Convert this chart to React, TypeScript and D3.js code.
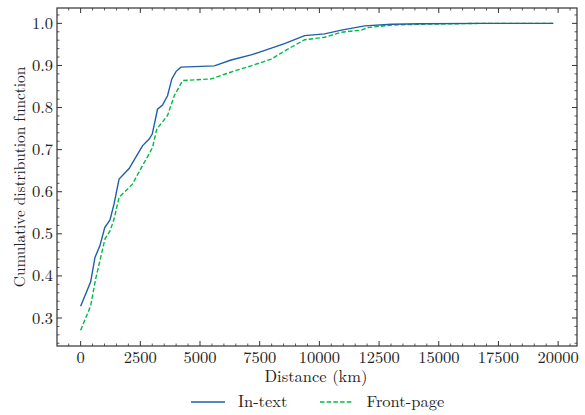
import React from "react";
import * as d3 from "d3";

const inTextX = [0, 420, 600, 810, 1010, 1230, 1400, 1610, 2030, 2590, 2870, 3000, 3220, 3430, 3640, 3820, 4000, 4200, 5600, 6300, 7140, 7560, 8540, 9380, 10220, 10920, 11900, 13020, 14280, 16800, 19800];
const inTextY = [0.328, 0.386, 0.444, 0.472, 0.515, 0.533, 0.571, 0.630, 0.655, 0.709, 0.725, 0.737, 0.796, 0.806, 0.828, 0.868, 0.886, 0.896, 0.899, 0.913, 0.925, 0.933, 0.952, 0.971, 0.975, 0.984, 0.994, 0.998, 0.999, 1.0, 1.0];

const frontX = [0, 420, 630, 840, 1020, 1230, 1400, 1610, 1960, 2170, 2590, 2870, 3010, 3190, 3640, 3920, 4270, 5460, 6440, 7140, 7980, 8680, 9380, 10220, 10920, 11760, 12040, 13020, 14280, 16800, 19800];
const frontY = [0.271, 0.329, 0.393, 0.444, 0.488, 0.507, 0.535, 0.587, 0.606, 0.618, 0.662, 0.690, 0.705, 0.749, 0.781, 0.828, 0.864, 0.868, 0.887, 0.899, 0.915, 0.939, 0.961, 0.967, 0.979, 0.984, 0.990, 0.996, 0.998, 1.0, 1.0];

const xTicks = [0, 2500, 5000, 7500, 10000, 12500, 15000, 17500, 20000];
const yTicks = [0.3, 0.4, 0.5, 0.6, 0.7, 0.8, 0.9, 1.0];
const seriesNames = ["In-text", "Front-page"];
const colors = ["#1f5fa8", "#00B945"];

const W = 585, H = 415;
const L = 57, R = 577, T = 8, B = 346;
const txt: React.CSSProperties = { fontFamily: '"Latin Modern Roman"', fontSize: 16.5, fill: "#222" };
const ytxt: React.CSSProperties = { ...txt, fontSize: 15.3 };

export default function App() {
  const x = d3.scaleLinear().domain([-990, 20790]).range([L, R]);
  const y = d3.scaleLinear().domain([0.2335, 1.0365]).range([B, T]);
  const line = d3.line<[number, number]>().x(d => x(d[0])).y(d => y(d[1]));
  const s1: [number, number][] = inTextX.map((v, i) => [v, inTextY[i]]);
  const s2: [number, number][] = frontX.map((v, i) => [v, frontY[i]]);

  const xMinor = d3.range(-500, 20800, 500).filter(v => v >= -990 && v <= 20790 && v % 2500 !== 0);
  const yMinor = d3.range(24, 104, 2).map(v => v / 100).filter(v => v >= 0.2335 && v <= 1.0365 && Math.round(v * 100) % 10 !== 0);

  const tickColor = "#333";
  return (
    <svg width={W} height={H} style={{ position: "absolute", left: 0, top: 0, background: "#fff" }}>
      <rect x={0} y={0} width={W} height={H} fill="#fff" />
      <path d={line(s2) || ""} fill="none" stroke={colors[1]} strokeWidth={1.4} strokeDasharray="4.5,2.2" />
      <path d={line(s1) || ""} fill="none" stroke={colors[0]} strokeWidth={1.4} />
      <rect x={L} y={T} width={R - L} height={B - T} fill="none" stroke={tickColor} strokeWidth={1.2} />
      {xTicks.map(t => (
        <g key={"xt" + t}>
          <line x1={x(t)} x2={x(t)} y1={B} y2={B - 5} stroke={tickColor} strokeWidth={1} />
          <line x1={x(t)} x2={x(t)} y1={T} y2={T + 5} stroke={tickColor} strokeWidth={1} />
          <text x={x(t)} y={363} textAnchor="middle" style={txt}>{t}</text>
        </g>
      ))}
      {xMinor.map(t => (
        <g key={"xm" + t}>
          <line x1={x(t)} x2={x(t)} y1={B} y2={B - 2.5} stroke={tickColor} strokeWidth={0.8} />
          <line x1={x(t)} x2={x(t)} y1={T} y2={T + 2.5} stroke={tickColor} strokeWidth={0.8} />
        </g>
      ))}
      {yTicks.map(t => (
        <g key={"yt" + t}>
          <line x1={L} x2={L + 5} y1={y(t)} y2={y(t)} stroke={tickColor} strokeWidth={1} />
          <line x1={R} x2={R - 5} y1={y(t)} y2={y(t)} stroke={tickColor} strokeWidth={1} />
          <text x={53} y={y(t) + 5.5} textAnchor="end" style={txt}>{t.toFixed(1)}</text>
        </g>
      ))}
      {yMinor.map(t => (
        <g key={"ym" + t}>
          <line x1={L} x2={L + 2.5} y1={y(t)} y2={y(t)} stroke={tickColor} strokeWidth={0.8} />
          <line x1={R} x2={R - 2.5} y1={y(t)} y2={y(t)} stroke={tickColor} strokeWidth={0.8} />
        </g>
      ))}
      <text x={316} y={382} textAnchor="middle" style={txt}>Distance (km)</text>
      <text transform={`translate(25, ${(T + B) / 2}) rotate(-90)`} textAnchor="middle" style={ytxt}>Cumulative distribution function</text>
      <line x1={191} x2={225} y1={402} y2={402} stroke={colors[0]} strokeWidth={1.4} />
      <text x={238} y={407} style={txt}>{seriesNames[0]}</text>
      <line x1={320} x2={353} y1={402} y2={402} stroke={colors[1]} strokeWidth={1.4} strokeDasharray="4.5,2.2" />
      <text x={366.5} y={407} style={txt}>{seriesNames[1]}</text>
    </svg>
  );
}
